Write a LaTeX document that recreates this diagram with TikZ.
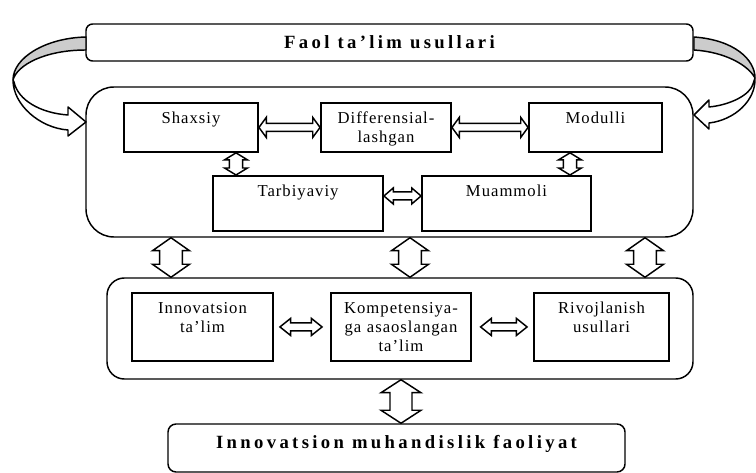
\documentclass[tikz,border=0pt]{standalone}
\usepackage{fontspec}
\setmainfont{Liberation Serif}
\usetikzlibrary{calc}

\tikzset{
    box/.style={draw, line width=1.4pt, anchor=north, align=center, inner xsep=2pt, inner ysep=7.5pt, text height=8pt,
        font=\fontsize{12.5}{14.25}\selectfont\addfontfeature{LetterSpace=6}},
    group/.style={draw, line width=1.1pt, inner sep=0pt},
    title/.style={draw, line width=1.1pt, inner sep=0pt,
        font=\bfseries\fontsize{14}{16}\selectfont\addfontfeature{LetterSpace=18}},
    blk/.style={draw, fill=white, line width=1.1pt, line join=miter},
    ribbon/.style={draw, line width=1.1pt, line join=round}
}

% block arrow: shaft half width, head half width, head length, from, to
\newcommand{\blockarrow}[5]{%
    \filldraw[blk] let \p1=(#4), \p2=(#5), \n1={veclen(\x2-\x1,\y2-\y1)}, \n2={atan2(\y2-\y1,\x2-\x1)}, \n3={\n1-#3} in
        (\p1) -- ($(\p1)+(\n2:#3)+(\n2+90:#2)$) -- ($(\p1)+(\n2:#3)+(\n2+90:#1)$)
        -- ($(\p1)+(\n2:\n3)+(\n2+90:#1)$) -- ($(\p1)+(\n2:\n3)+(\n2+90:#2)$) -- (\p2)
        -- ($(\p1)+(\n2:\n3)+(\n2-90:#2)$) -- ($(\p1)+(\n2:\n3)+(\n2-90:#1)$)
        -- ($(\p1)+(\n2:#3)+(\n2-90:#1)$) -- ($(\p1)+(\n2:#3)+(\n2-90:#2)$) -- cycle;}

\begin{document}
\begin{tikzpicture}[x=0.75pt, y=-0.75pt]
    \useasboundingbox (0,0) rectangle (756,473);
    % frames:
    \node[group, rounded corners=21pt, minimum width=455.25pt, minimum height=112.5pt] (upper) at (389.5,162) {};
    \node[group, rounded corners=13pt, minimum width=439.5pt, minimum height=75.75pt] (lower) at (400,328.5) {};
    \node[title, rounded corners=5pt, minimum width=455.25pt, minimum height=27.75pt] (faol) at (389.5,42.5) {Faol ta’lim usullari};
    \node[title, rounded corners=6pt, minimum width=342.75pt, minimum height=36pt, text depth=9pt] (faoliyat) at (396.5,448) {Innovatsion muhandislik faoliyat};
    % curved arrows:
    \filldraw[ribbon, fill=gray!40] (86,37) .. controls (45,38) and (13,58) .. (13,80) .. controls (17,65) and (45,50) .. (86,50) -- cycle;
    \filldraw[ribbon, fill=white] (13,80) .. controls (13,105) and (40,128) .. (68,130) -- (68,136) -- (86,122) -- (68,107) -- (68,115) .. controls (40,113) and (18,100) .. (14,82) -- cycle;
    \filldraw[ribbon, fill=gray!40] (694,37) .. controls (735,40) and (755,60) .. (755,78) .. controls (748,65) and (725,52) .. (694,50) -- cycle;
    \filldraw[ribbon, fill=white] (755,78) .. controls (756,100) and (735,120) .. (709,123) -- (709,129) -- (694,115) -- (709,100) -- (709,107) .. controls (730,105) and (750,95) .. (753,84) -- cycle;
    % boxes:
    \node[box, text width=96.5pt, text depth=13.75pt] (shaxsiy) at (191,102) {Shaxsiy};
    \node[box, text width=93.5pt, text depth=13.75pt] (diff) at (386,102) {Differensial-\\lashgan};
    \node[box, text width=95.75pt, text depth=13.75pt] (modulli) at (595.5,102) {Modulli};
    \node[box, text width=123.5pt, text depth=18.25pt] (tarbiya) at (298,175) {Tarbiyaviy};
    \node[box, text width=122.75pt, text depth=18.25pt] (muammoli) at (506.5,175) {Muammoli};
    \node[box, text width=101.75pt, text depth=28pt] (innov) at (202.5,292) {Innovatsion\\ta’lim};
    \node[box, text width=101pt, text depth=28pt] (komp) at (401,292) {Kompetensiya-\\ga asaoslangan\\ta’lim};
    \node[box, text width=97.25pt, text depth=28pt] (rivoj) at (601.5,292) {Rivojlanish\\usullari};
    % arrows:
    \blockarrow{3pt}{7.5pt}{5.5pt}{shaxsiy.east}{diff.west}
    \blockarrow{3pt}{7.5pt}{5.5pt}{diff.east}{modulli.west}
    \blockarrow{3pt}{6pt}{7pt}{[yshift=5.6pt]tarbiya.east}{[yshift=5.6pt]muammoli.west}
    \blockarrow{4.9pt}{8.6pt}{5.25pt}{236,0 |- shaxsiy.south}{236,0 |- tarbiya.north}
    \blockarrow{4.9pt}{8.6pt}{5.25pt}{570,0 |- modulli.south}{570,0 |- muammoli.north}
    \blockarrow{8.6pt}{13.9pt}{9.75pt}{171,0 |- upper.south}{171,0 |- lower.north}
    \blockarrow{8.6pt}{13.9pt}{9.75pt}{410,0 |- upper.south}{410,0 |- lower.north}
    \blockarrow{8.6pt}{13.9pt}{9.75pt}{645,0 |- upper.south}{645,0 |- lower.north}
    \blockarrow{3pt}{6.4pt}{8pt}{[xshift=4.5pt]innov.east}{[xshift=-6pt]komp.west}
    \blockarrow{3pt}{6.4pt}{8pt}{[xshift=6.5pt]komp.east}{[xshift=-4.5pt]rivoj.west}
    \blockarrow{8.25pt}{15pt}{9.75pt}{401,0 |- lower.south}{401,0 |- faoliyat.north}
\end{tikzpicture}
\end{document}
